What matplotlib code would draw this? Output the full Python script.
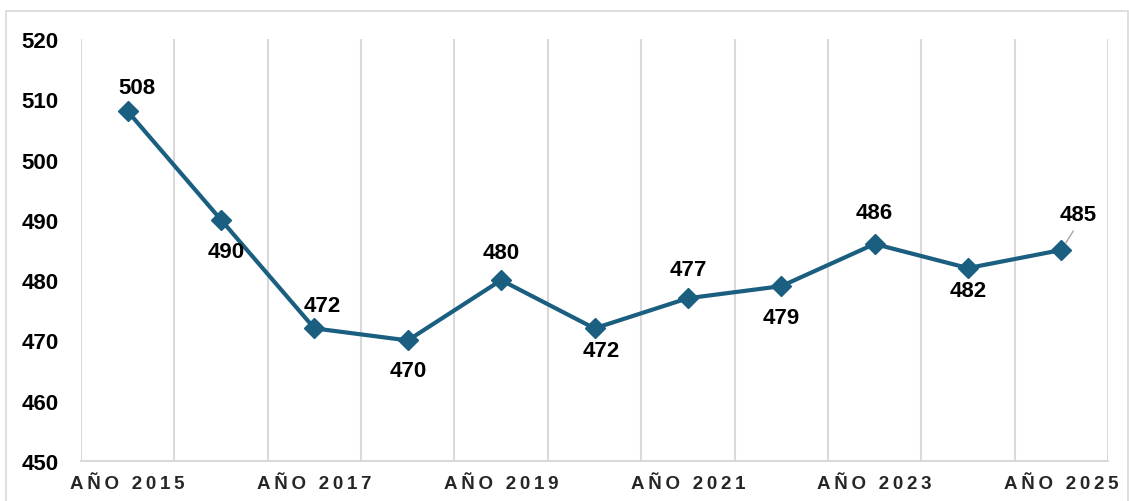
import matplotlib
matplotlib.use("Agg")
import matplotlib.pyplot as plt
from matplotlib.patches import Rectangle
import numpy as np

years = ["2015", "2016", "2017", "2018", "2019", "2020", "2021", "2022", "2023", "2024", "2025"]
values = [508, 490, 472, 470, 480, 472, 477, 479, 486, 482, 485]
y_ticks = [450, 460, 470, 480, 490, 500, 510, 520]

# label offsets in pixels (dx, dy), style only
label_offsets = [(9, 24), (5, -32), (8, 23), (0, -30), (0, 28), (7, -22),
                 (0, 29), (0, -31), (0, 31), (0, -22), (17, 35)]

FONT = ["Liberation Sans", "DejaVu Sans"]
plt.rcParams["font.family"] = FONT

W, H = 1129, 502
fig = plt.figure(figsize=(W / 100, H / 100), dpi=100)
fig.patch.set_facecolor("white")

# outer chart border
fig.patches.append(Rectangle((6 / W, -0.05), (1128 - 6) / W, (H - 12) / H + 0.05,
                             transform=fig.transFigure, fill=False,
                             edgecolor="#D9D9D9", linewidth=1.2))

ax = fig.add_axes([81 / W, (H - 462) / H, (1108 - 81) / W, (462 - 40) / H])
x = np.arange(len(years))
color = "#1A5E80"
ax.plot(x, values, color=color, linewidth=3.0, marker="D", markersize=10,
        markerfacecolor=color, markeredgecolor=color, zorder=3)

ax.set_xlim(-0.5, len(years) - 0.5)
ax.set_ylim(y_ticks[0], y_ticks[-1])
ax.set_yticks(y_ticks)
ax.set_yticklabels([str(v) for v in y_ticks], fontsize=16, fontweight="bold", color="black")

def spaced(s):
    return "\u2009".join(list(s))

ax.set_xticks(x[::2])
ax.set_xticklabels([spaced("AÑO " + y) for y in years[::2]], fontsize=13.5,
                   fontweight="bold", color="#262626")
ax.set_xticks(np.arange(len(years) + 1) - 0.5, minor=True)
ax.grid(which="minor", axis="x", color="#D9D9D9", linewidth=1.5, zorder=0)
ax.grid(which="major", visible=False)
ax.tick_params(axis="both", which="both", length=0)
ax.tick_params(axis="y", pad=16)
ax.tick_params(axis="x", pad=10)
for s in ["top", "right", "left"]:
    ax.spines[s].set_visible(False)
ax.spines["bottom"].set_color("#D9D9D9")
ax.spines["bottom"].set_linewidth(1.5)

for i, (v, (dx, dy)) in enumerate(zip(values, label_offsets)):
    ax.annotate(str(v), (x[i], v), xytext=(dx, dy), textcoords="offset pixels",
                ha="center", va="center", fontsize=16, fontweight="bold",
                color="black", zorder=4)

# leader line for last label
ax.annotate("", xy=(x[-1], values[-1]), xytext=(12, 19), textcoords="offset pixels",
            arrowprops=dict(arrowstyle="-", color="#A6A6A6", linewidth=1.0,
                            shrinkA=0, shrinkB=6))

fig.savefig("out.png", dpi=100)
